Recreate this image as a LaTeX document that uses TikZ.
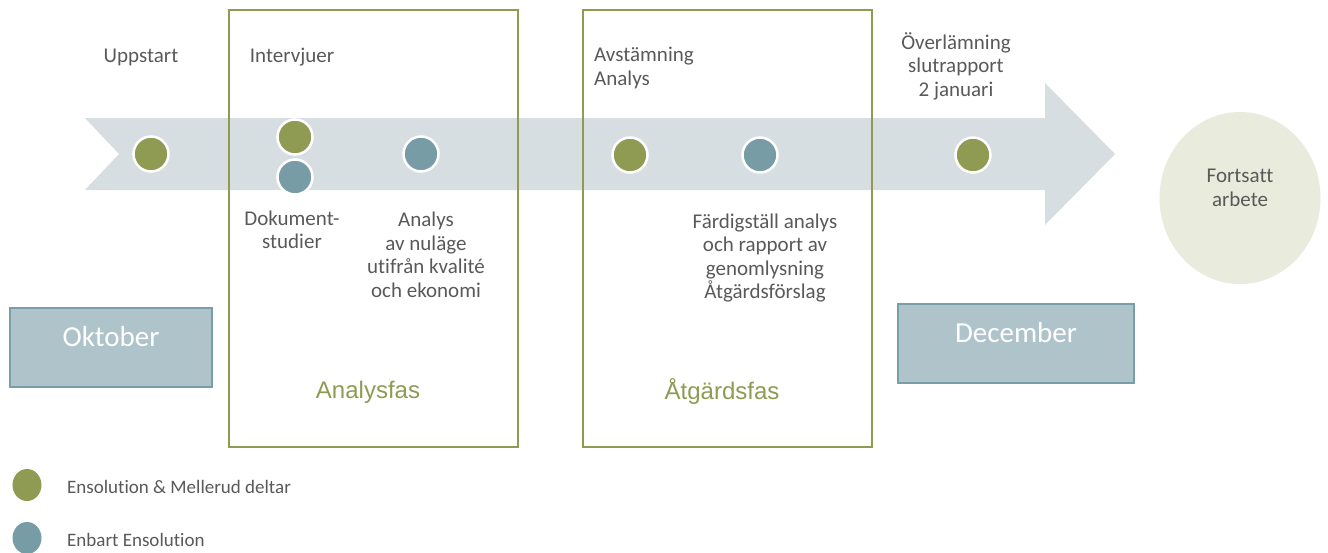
\documentclass[tikz,border=0pt]{standalone}
\usepackage{fontspec}
\setmainfont{Carlito}[Ligatures=NoCommon]
\newfontfamily\phasefont{Liberation Sans}
\usetikzlibrary{shapes.geometric}
\definecolor{olive}{HTML}{8F9A52}
\definecolor{steel}{HTML}{789CA5}
\definecolor{band}{HTML}{D6DEE1}
\definecolor{txt}{HTML}{595959}
\definecolor{monthfill}{HTML}{AEC4CA}
\definecolor{monthline}{HTML}{7A9EA7}
\definecolor{cloud}{HTML}{E9EBDC}
\tikzset{
  lbl/.style={text=txt, font=\fontsize{21}{23.5}\selectfont, align=center, inner sep=0pt},
  dotg/.style={circle, fill=olive, draw=white, line width=2.5pt, minimum size=35pt, inner sep=0pt},
  dotb/.style={dotg, fill=steel},
  phasebox/.style={draw=olive, line width=2.6pt},
  phaselbl/.style={text=olive, font=\phasefont\fontsize{24}{28}\selectfont, inner sep=0pt},
  monthbox/.style={draw=monthline, fill=monthfill, line width=1.8pt},
  monthlbl/.style={text=white, font=\fontsize{29}{33}\selectfont, inner sep=0pt},
  legdot/.style={ellipse, fill=#1, minimum width=29pt, minimum height=32pt, inner sep=0pt},
  legtxt/.style={text=txt, font=\fontsize{19}{22}\selectfont, anchor=west, inner sep=0pt}
}
\begin{document}
\begin{tikzpicture}[x=1pt,y=-1pt]
\useasboundingbox (0,0) rectangle (1328,552);

% timeline arrow
\fill[band] (85,118) -- (1045,118) -- (1045,83) -- (1115,154) -- (1045,225)
  -- (1045,190) -- (85,190) -- (119,154) -- cycle;

% phase frames
\draw[phasebox] (229,10) rectangle (518,447);
\draw[phasebox] (583,10) rectangle (872,447);
\node[phaselbl] (analysfas) at (368,392) {Analysfas};
\node[phaselbl] (atgardsfas) at (722,392) {Åtgärdsfas};

% month boxes
\draw[monthbox] (10,308) rectangle (212,387);
\node[monthlbl] (okt) at (111,337) {Oktober};
\draw[monthbox] (898,304) rectangle (1134,383);
\node[monthlbl] (dec) at (1016,333) {December};

% continuation
\node[ellipse, fill=cloud, minimum width=161pt, minimum height=172pt, inner sep=0pt] (fort) at (1240,198) {};
\node[lbl] (forttxt) at (1240,188) {Fortsatt\\arbete};

% milestones
\node[dotg] (m1) at (151,154) {};
\node[dotg] (m2a) at (295,137) {};
\node[dotb] (m2b) at (295,177) {};
\node[dotb] (m3) at (421,154) {};
\node[dotg] (m4) at (630,155) {};
\node[dotb] (m5) at (760,155) {};
\node[dotg] (m6) at (973,155) {};

% milestone labels
\node[lbl] (t1) at (141,57) {Uppstart};
\node[lbl] (t2) at (292,57) {Intervjuer};
\node[lbl, align=left, anchor=west] (t4) at (594,68) {Avstämning\\Analys};
\node[lbl] (t6) at (956,66) {Överlämning\\slutrapport\\2 januari};
\node[lbl] (t2b) at (292,230) {Dokument-\\studier};
\node[lbl] (t3) at (426,255) {Analys\\av nuläge\\utifrån kvalité\\och ekonomi};
\node[lbl] (t5) at (765,258) {Färdigställ analys\\och rapport av\\genomlysning\\Åtgärdsförslag};

% legend
\node[legdot=olive] (lg1) at (27,485) {};
\node[legtxt] (lt1) at (67,487) {Ensolution \& Mellerud deltar};
\node[legdot=steel] (lg2) at (27,538) {};
\node[legtxt] (lt2) at (67,540) {Enbart Ensolution};
\end{tikzpicture}
\end{document}
